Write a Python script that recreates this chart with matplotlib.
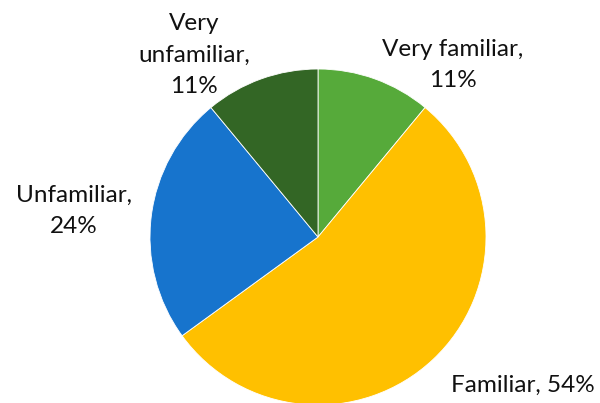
import matplotlib
matplotlib.use("Agg")
import matplotlib.pyplot as plt

categories = ["Very familiar", "Familiar", "Unfamiliar", "Very unfamiliar"]
values = [11, 54, 24, 11]
colors = ["#56AA3A", "#FFC000", "#1774CD", "#336625"]
label_texts = ["Very familiar,\n11%", "Familiar, 54%", "Unfamiliar,\n24%", "Very\nunfamiliar,\n11%"]

W, H = 600, 403
fig = plt.figure(figsize=(W / 100, H / 100), dpi=100)
cx, cy, r = 318, 237, 168
ax = fig.add_axes([(cx - r) / W, (H - cy - r) / H, 2 * r / W, 2 * r / H])
ax.pie(values, colors=colors, startangle=90, counterclock=False, radius=1,
       wedgeprops=dict(edgecolor="white", linewidth=0.6))
ax.set_xlim(-1, 1)
ax.set_ylim(-1, 1)
ax.set_aspect("equal")
ax.axis("off")

# label anchor positions (pixel centers in the reference)
label_px = [(453, 65), (523, 385), (74, 211), (194, 55)]
for txt, (px, py) in zip(label_texts, label_px):
    ax.text((px - cx) / r, (cy - py) / r, txt, ha="center", va="center",
            fontsize=17.5, family=["Lato", "DejaVu Sans"], color="#111111",
            linespacing=1.62, clip_on=False)

fig.savefig("out.png", dpi=100)
